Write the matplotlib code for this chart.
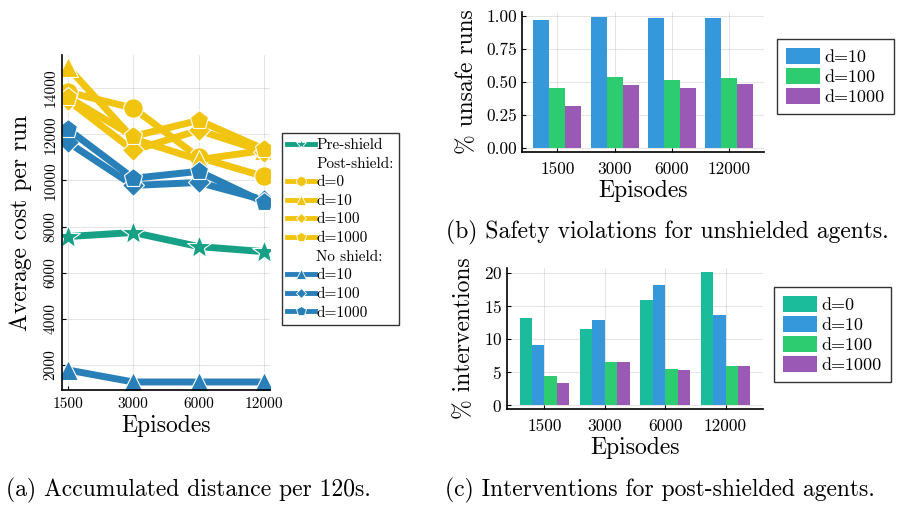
import matplotlib
matplotlib.use("Agg")
import matplotlib.pyplot as plt
from matplotlib.lines import Line2D
import numpy as np

plt.rcParams['font.family'] = ['cmr10', 'DejaVu Serif']
plt.rcParams['mathtext.fontset'] = 'cm'
plt.rcParams['axes.unicode_minus'] = False
plt.rcParams['axes.formatter.use_mathtext'] = True

episodes = ["1500", "3000", "6000", "12000"]

# (a) average cost per run
pre_shield = [7565, 7740, 7130, 6910]
post_d0 = [13830, 13130, 11000, 10170]
post_d10 = [14900, 11800, 10900, 11300]
post_d100 = [13480, 11300, 12170, 11250]
post_d1000 = [13610, 11910, 12600, 11350]
none_d10 = [1780, 1260, 1260, 1260]
none_d100 = [11650, 9780, 9910, 9150]
none_d1000 = [12220, 10090, 10390, 9050]

# (b) fraction of unsafe runs
unsafe_labels = ["d=10", "d=100", "d=1000"]
unsafe_d10 = [0.967, 0.987, 0.985, 0.980]
unsafe_d100 = [0.452, 0.540, 0.515, 0.528]
unsafe_d1000 = [0.319, 0.475, 0.457, 0.485]

# (c) % interventions
interv_labels = ["d=0", "d=10", "d=100", "d=1000"]
interv_d0 = [13.16, 11.48, 15.92, 20.1]
interv_d10 = [9.13, 12.81, 18.06, 13.57]
interv_d100 = [4.34, 6.43, 5.41, 5.92]
interv_d1000 = [3.32, 6.43, 5.31, 5.87]

teal = "#16A085"
yellow = "#F1C40F"
blue = "#2980B9"
bar_cols = ["#1ABC9C", "#3498DB", "#2ECC71", "#9B59B6"]

W, H = 899, 508
fig = plt.figure(figsize=(W / 100, H / 100), dpi=100)


def box(l, t, r, b):
    return [l / W, 1 - b / H, (r - l) / W, (b - t) / H]


def style(ax, fs):
    for s in ["top", "right"]:
        ax.spines[s].set_visible(False)
    ax.spines["left"].set_linewidth(1.2)
    ax.spines["bottom"].set_linewidth(1.2)
    ax.grid(True, color="#000000", alpha=0.1, lw=0.8)
    ax.set_axisbelow(True)
    ax.tick_params(direction="in", length=3, labelsize=fs, width=0.8)


# ---- (a)
ax = fig.add_axes(box(62, 55, 270, 390))
style(ax, 11)
x = np.arange(len(episodes))
lw = 5
ms = 14
kw = dict(lw=lw, ms=ms, mec="white", mew=0.8)
ax.plot(x, pre_shield, color=teal, marker="*", ms=18, lw=lw, mec="white", mew=0.8)
ax.plot(x, post_d0, color=yellow, marker="o", **kw)
ax.plot(x, post_d10, color=yellow, marker="^", **kw)
ax.plot(x, post_d100, color=yellow, marker="D", lw=lw, ms=11, mec="white", mew=0.8)
ax.plot(x, post_d1000, color=yellow, marker="p", **kw)
ax.plot(x, none_d10, color=blue, marker="^", **kw)
ax.plot(x, none_d100, color=blue, marker="D", lw=lw, ms=11, mec="white", mew=0.8)
ax.plot(x, none_d1000, color=blue, marker="p", **kw)
ax.set_xlim(-0.09, 3.09)
ax.set_ylim(913, 15435)
ax.set_xticks(x)
ax.set_xticklabels(episodes)
ax.set_yticks([2000, 4000, 6000, 8000, 10000, 12000, 14000])
ax.set_yticklabels(["2000", "4000", "6000", "8000", "10000", "12000", "14000"],
                   rotation=90, va="center")
ax.tick_params(axis="x", pad=5)
ax.set_xlabel("Episodes", fontsize=17, labelpad=3)
ax.set_ylabel("Average cost per run", fontsize=17, labelpad=8)

lkw = dict(lw=3.5, ms=7, mec="white", mew=0.6)
handles = [
    Line2D([], [], color=teal, marker="*", **lkw),
    Line2D([], [], color="none"),
    Line2D([], [], color=yellow, marker="o", **lkw),
    Line2D([], [], color=yellow, marker="^", **lkw),
    Line2D([], [], color=yellow, marker="D", lw=3.5, ms=5.5, mec="white", mew=0.6),
    Line2D([], [], color=yellow, marker="p", **lkw),
    Line2D([], [], color="none"),
    Line2D([], [], color=blue, marker="^", **lkw),
    Line2D([], [], color=blue, marker="D", lw=3.5, ms=5.5, mec="white", mew=0.6),
    Line2D([], [], color=blue, marker="p", **lkw),
]
labels = ["Pre-shield", "Post-shield:", "d=0", "d=10", "d=100", "d=1000",
          "No shield:", "d=10", "d=100", "d=1000"]
leg = fig.legend(handles, labels, loc="upper left",
                 bbox_to_anchor=(282 / W, 1 - 133 / H), fontsize=11,
                 frameon=True, fancybox=False, edgecolor="black",
                 handlelength=1.8, handletextpad=0.1, labelspacing=0.32,
                 borderpad=0.35, borderaxespad=0)
leg.get_frame().set_linewidth(1.0)

# ---- bar helper
def grouped(ax, series, cols, width):
    n = len(series)
    xs = np.arange(len(episodes))
    bars = []
    for i, vals in enumerate(series):
        off = (i - (n - 1) / 2) * width
        bars.append(ax.bar(xs + off, vals, width=width, color=cols[i], edgecolor="none"))
    ax.set_xticks(xs)
    ax.set_xticklabels(episodes)
    ax.tick_params(axis="x", pad=7)
    return bars

# ---- (b)
axb = fig.add_axes(box(522, 12, 764, 152))
style(axb, 12.5)
bb = grouped(axb, [unsafe_d10, unsafe_d100, unsafe_d1000], bar_cols[1:], 0.28)
axb.set_xlim(-0.62, 3.61)
axb.set_ylim(-0.028, 1.028)
axb.set_yticks([0, 0.25, 0.5, 0.75, 1.0])
axb.set_yticklabels(["0.00", "0.25", "0.50", "0.75", "1.00"])
axb.set_xlabel("Episodes", fontsize=17, labelpad=2)
axb.set_ylabel("% unsafe runs", fontsize=17, labelpad=6)
lb = fig.legend(bb, unsafe_labels, loc="upper left",
                bbox_to_anchor=(777 / W, 1 - 39 / H), fontsize=13,
                frameon=True, fancybox=False, edgecolor="black",
                handlelength=1.9, handleheight=1.0, handletextpad=0.25,
                labelspacing=0.15, borderpad=0.5, borderaxespad=0)
lb.get_frame().set_linewidth(1.0)

# ---- (c)
axc = fig.add_axes(box(507, 268, 763, 409))
style(axc, 12.5)
bc = grouped(axc, [interv_d0, interv_d10, interv_d100, interv_d1000], bar_cols, 0.205)
axc.set_xlim(-0.62, 3.62)
axc.set_ylim(-0.6, 20.7)
axc.set_yticks([0, 5, 10, 15, 20])
axc.set_xlabel("Episodes", fontsize=17, labelpad=2)
axc.set_ylabel("% interventions", fontsize=17, labelpad=6)
lc = fig.legend(bc, interv_labels, loc="upper left",
                bbox_to_anchor=(774 / W, 1 - 287 / H), fontsize=13,
                frameon=True, fancybox=False, edgecolor="black",
                handlelength=1.9, handleheight=1.0, handletextpad=0.25,
                labelspacing=0.15, borderpad=0.5, borderaxespad=0)
lc.get_frame().set_linewidth(1.0)

# captions
fig.text(188 / W, 1 - 490 / H, "(a) Accumulated distance per 120s.", fontsize=17,
         ha="center", va="center")
fig.text(667 / W, 1 - 232 / H, "(b) Safety violations for unshielded agents.", fontsize=17,
         ha="center", va="center")
fig.text(660 / W, 1 - 490 / H, "(c) Interventions for post-shielded agents.", fontsize=17,
         ha="center", va="center")

fig.savefig("out.png", dpi=100)
